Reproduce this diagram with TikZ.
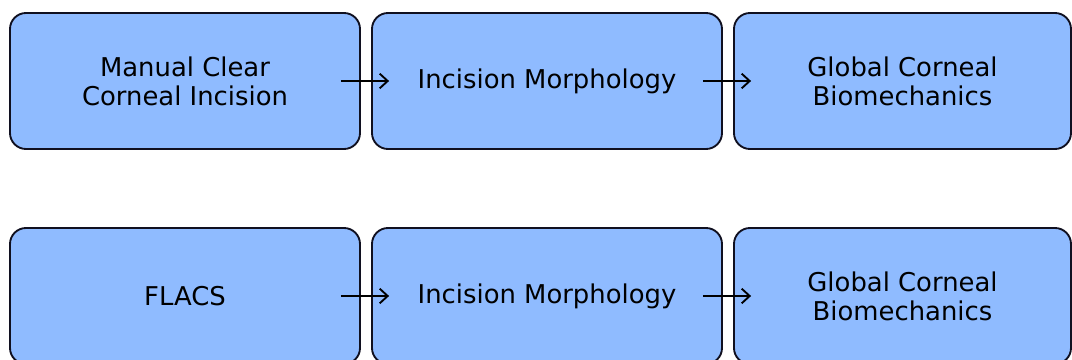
\documentclass[tikz,border=0pt]{standalone}
\usepackage{fontspec}
\setmainfont{DejaVu Sans}
\usetikzlibrary{arrows.meta,calc}
\definecolor{boxblue}{HTML}{8FBBFF}
\definecolor{boxedge}{HTML}{101020}

\begin{document}
\begin{tikzpicture}[
  x=0.75pt, y=-0.75pt,
  box/.style={draw=boxedge, line width=1.4pt, rounded corners=12pt, minimum height=102pt, minimum width=262.5pt, align=center, fill=boxblue, font=\fontsize{19.4}{21.75}\selectfont},
  >={Straight Barb[length=6pt,width=11pt]}
]
\useasboundingbox (0,0) rectangle (1072,360);
\node[box] (m1) at (185,81) {Manual Clear\\Corneal Incision};
\node[box] (i1) at (547,81) {Incision Morphology};
\node[box, minimum width=252.75pt] (g1) at (902.5,81) {Global Corneal\\Biomechanics};
\node[box] (f2) at (185,296) {FLACS};
\node[box] (i2) at (547,296) {Incision Morphology};
\node[box, minimum width=252.75pt] (g2) at (902.5,296) {Global Corneal\\Biomechanics};

\draw[->, line width=1.4pt] ($(m1.east)+(-20,0)$) -- ($(i1.west)+(18,0)$);
\draw[->, line width=1.4pt] ($(i1.east)+(-20,0)$) -- ($(g1.west)+(18,0)$);
\draw[->, line width=1.4pt] ($(f2.east)+(-20,0)$) -- ($(i2.west)+(18,0)$);
\draw[->, line width=1.4pt] ($(i2.east)+(-20,0)$) -- ($(g2.west)+(18,0)$);
\end{tikzpicture}
\end{document}
